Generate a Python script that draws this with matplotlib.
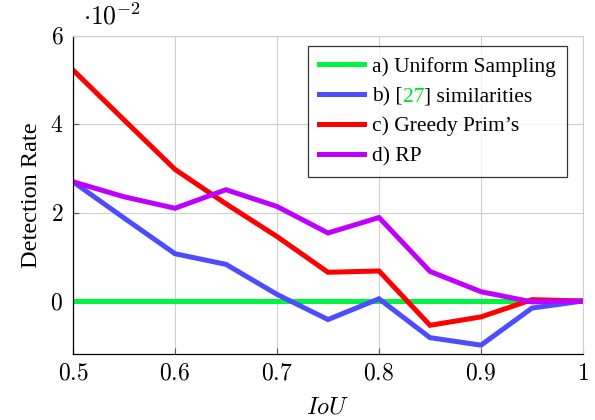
import matplotlib
matplotlib.use("Agg")
import matplotlib.pyplot as plt
from matplotlib.offsetbox import TextArea, HPacker

plt.rcParams['mathtext.fontset'] = 'cm'
plt.rcParams['font.family'] = ['Liberation Serif', 'DejaVu Serif']

iou = [0.5, 0.55, 0.6, 0.65, 0.7, 0.75, 0.8, 0.85, 0.9, 0.95, 1.0]
uniform = [0, 0, 0, 0, 0, 0, 0, 0, 0, 0, 0]
sim27 = [2.70, 1.88, 1.07, 0.83, 0.15, -0.42, 0.05, -0.83, -1.00, -0.16, 0.0]
greedy = [5.23, 4.10, 2.98, 2.20, 1.46, 0.65, 0.68, -0.55, -0.36, 0.03, 0.0]
rp = [2.70, 2.36, 2.10, 2.52, 2.14, 1.54, 1.89, 0.67, 0.21, -0.02, 0.0]

labels = ["a) Uniform Sampling", "b) [27] similarities", "c) Greedy Prim\u2019s", "d) RP"]
colors = ['#00f542', '#4d4dff', '#ff0000', '#bf00ff']
xticks = [0.5, 0.6, 0.7, 0.8, 0.9, 1.0]
xticklabels = ["0.5", "0.6", "0.7", "0.8", "0.9", "1"]
yticks = [0, 2, 4, 6]

fig = plt.figure(figsize=(5.95, 4.2), dpi=100)
ax = fig.add_axes([73/595, 1-354/420, (583-73)/595, (354-36)/420])

for ys, lab, c in zip([uniform, sim27, greedy, rp], labels, colors):
    ax.plot(iou, ys, color=c, lw=3.6, label=lab, solid_joinstyle='miter')

ax.set_xlim(0.5, 1.0)
ax.set_ylim(-1.2, 6)
ax.set_xticks(xticks)
ax.set_xticklabels(["$%s$" % t for t in xticklabels])
ax.set_yticks(yticks)
ax.set_yticklabels(["$%d$" % t for t in yticks])
ax.tick_params(direction='in', length=4, width=0.8, color='#555555', labelsize=17, pad=7)
ax.grid(True, color='#d0d0d0', lw=0.8)
ax.set_axisbelow(True)
for s in ['top', 'right']:
    ax.spines[s].set_color('#d0d0d0')
    ax.spines[s].set_linewidth(0.8)
for s in ['left', 'bottom']:
    ax.spines[s].set_linewidth(0.9)

ax.set_xlabel("$IoU$", fontsize=17.5, labelpad=9)
ax.set_ylabel("Detection Rate", fontsize=17.5, labelpad=6)
ax.text(0.02, 1.02, r"$\cdot 10^{-2}$", transform=ax.transAxes, fontsize=18.5, ha='left', va='bottom')

FS = 15.5
leg = ax.legend(loc='upper right', bbox_to_anchor=(567/595, 1-46/420), bbox_transform=fig.transFigure,
                fontsize=FS, frameon=True, fancybox=False, edgecolor='black',
                handlelength=2.1, handletextpad=0.38, labelspacing=0.45, borderpad=0.5,
                borderaxespad=0)
leg.get_frame().set_linewidth(0.9)

# recolor "27" in second label
col = leg._legend_handle_box.get_children()[0]
item = col.get_children()[1]
fp = dict(fontsize=FS, family=['Liberation Serif'])
parts = HPacker(children=[TextArea("b) [", textprops=dict(color='black', **fp)),
                          TextArea("27", textprops=dict(color='#00e62e', **fp)),
                          TextArea("] similarities", textprops=dict(color='black', **fp))],
                sep=0, pad=0, align='baseline')
parts.set_figure(fig)
item._children[1] = parts

fig.savefig("out.png", dpi=100)
